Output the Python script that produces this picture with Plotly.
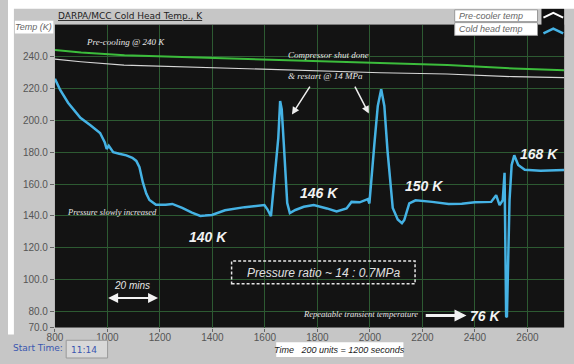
import plotly.graph_objects as go

# ---------------- data ----------------
cold_x = [800, 820, 850, 880, 897, 934, 972, 990, 997, 1005, 1012, 1022, 1045, 1072, 1095, 1110,
          1122, 1135, 1148, 1160, 1185, 1222, 1247, 1285, 1322, 1354, 1372, 1398, 1448, 1523, 1598,
          1610, 1623, 1636, 1643, 1651, 1658, 1664, 1672, 1685, 1695, 1716, 1748, 1786, 1836, 1873,
          1911, 1930, 1961, 1992, 1998, 2004, 2017, 2030, 2043, 2055, 2067, 2087, 2106, 2122, 2131,
          2150, 2174, 2237, 2300, 2350, 2400, 2462, 2481, 2494, 2506, 2513, 2516, 2519, 2522, 2526,
          2532, 2540, 2550, 2565, 2590, 2650, 2740]
cold_y = [226, 219, 211, 205, 201.5, 197, 192, 186, 182, 184, 182.5, 180, 179, 178, 176.5, 174.5,
          170.5, 161, 154, 150, 147, 147, 147.5, 145, 142, 140, 140.2, 140.6, 143.5, 145.5, 146.8,
          144, 139.8, 164, 174.5, 189, 212, 207, 185, 148, 141.8, 143.7, 145.7, 146.8, 144.7, 142.8,
          144.7, 148.8, 148.5, 150.5, 147.8, 158, 185, 209, 219.5, 209, 181, 145, 137.8, 135.5, 137.5,
          147.8, 149.8, 148.8, 147.4, 147.6, 148.6, 148.8, 153, 146.8, 149.8, 167, 110, 77, 76.5, 110,
          150, 172, 178, 172, 169, 168.3, 168.8]

green_x = [800, 900, 1065, 1345, 1685, 2040, 2295, 2548, 2740]
green_y = [244, 242.5, 240.8, 239.4, 238.1, 236.0, 234.6, 232.5, 231.4]

white_x = [800, 898, 1063, 1406, 1786, 2041, 2293, 2548, 2740]
white_y = [238.3, 236.7, 234.6, 232.9, 231.4, 229.8, 229.0, 227.3, 226.7]

x_ticks = [800, 1000, 1200, 1400, 1600, 1800, 2000, 2200, 2400, 2600]
y_ticks = [70, 80, 100, 120, 140, 160, 180, 200, 220, 240]

# ---------------- layout helpers (paper == whole figure) ----------------
W, H = 574, 364
PL, PR, PT, PB = 47.6, 564, 25, 333   # plot-area pixel box


def px(x):
    return x / W


def py(y):
    return 1 - y / H


GRID = "#2d5a32"
BLUE = "#45b2e4"
fig = go.Figure()

fig.add_trace(go.Scatter(x=green_x, y=green_y, mode="lines", line=dict(color="#3cbd3c", width=2),
                         showlegend=False, hoverinfo="skip"))
fig.add_trace(go.Scatter(x=white_x, y=white_y, mode="lines", line=dict(color="#d6d6d6", width=1.2),
                         name="Pre-cooler temp", showlegend=False))
fig.add_trace(go.Scatter(x=cold_x, y=cold_y, mode="lines", line=dict(color=BLUE, width=2.5),
                         name="Cold head temp", showlegend=False))

shapes = []
annotations = []


def prect(x0, y0, x1, y1, **kw):
    d = dict(type="rect", xref="paper", yref="paper", x0=px(x0), x1=px(x1), y0=py(y1), y1=py(y0))
    d.update(kw)
    return d


def ptext(x, y, text, font, xanchor="center"):
    return dict(x=px(x), y=py(y), xref="paper", yref="paper", text=text, showarrow=False,
                xanchor=xanchor, yanchor="middle", font=font)


# white strips at top / left of gray panel
shapes.append(prect(0, 0, W, 9, fillcolor="white", line=dict(width=0), layer="below"))
shapes.append(prect(0, 0, 6, 340, fillcolor="white", line=dict(width=0), layer="below"))
# Temp (K) box
shapes.append(prect(7, 21, 46, 34, fillcolor="white", line=dict(width=0)))
annotations.append(ptext(26, 27.5, "<i>Temp (K)</i>",
                         dict(family="Liberation Sans", size=9, color="#666")))
# Title
annotations.append(ptext(49, 16, "<u>DARPA/MCC Cold Head Temp., K</u>",
                         dict(family="DejaVu Sans", size=9, color="#222"), "left"))
# Legend
shapes.append(prect(453, 10, 537, 22, fillcolor="white", line=dict(width=1, color="#999")))
shapes.append(prect(453, 23, 537, 36, fillcolor="white", line=dict(width=1, color="#999")))
annotations.append(ptext(455, 16, "<i>Pre-cooler temp</i>",
                         dict(family="Liberation Sans", size=9, color="#666"), "left"))
annotations.append(ptext(455, 29.5, "<i>Cold head temp</i>",
                         dict(family="Liberation Sans", size=9, color="#666"), "left"))
shapes.append(prect(541, 9, 564, 38, fillcolor="#111", line=dict(width=0)))


def chev(x0, xm, x1, ylow, yhigh):
    return "M %f,%f L %f,%f L %f,%f" % (px(x0), py(ylow), px(xm), py(yhigh), px(x1), py(ylow))


shapes.append(dict(type="path", xref="paper", yref="paper", path=chev(543, 553, 563, 18, 13),
                   line=dict(color="white", width=2)))
shapes.append(dict(type="path", xref="paper", yref="paper", path=chev(543, 553, 563, 34, 29),
                   line=dict(color=BLUE, width=2.5)))

# bottom labels
annotations.append(ptext(3, 354, "Start Time:",
                         dict(family="DejaVu Sans", size=9, color="#3a56b0"), "left"))
shapes.append(prect(59, 346, 101, 364, fillcolor="#d8d8d8", line=dict(width=1, color="#999")))
annotations.append(ptext(62, 356, "11:14",
                         dict(family="DejaVu Sans", size=9, color="#3a56b0"), "left"))
shapes.append(prect(272, 348, 401, 363, fillcolor="white", line=dict(width=0)))
annotations.append(ptext(336, 355.5, "<i>Time   200 units = 1200 seconds</i>",
                         dict(family="Liberation Sans", size=9, color="#222")))

# in-plot annotations
serif = dict(family="Liberation Serif", size=9, color="#e6e6e6")
bold = dict(family="Liberation Sans", size=14, color="#f2f2f2")
annotations += [
    dict(x=1068, y=249, text="<i>Pre-cooling @ 240 K</i>", showarrow=False, font=serif),
    dict(x=1842, y=241, text="<i>Compressor shut done</i>", showarrow=False, font=serif),
    dict(x=1831, y=227.5, text="<i>& restart @ 14 MPa</i>", showarrow=False, font=serif),
    dict(x=1016, y=142.6, text="<i>Pressure slowly increased</i>", showarrow=False,
         font=dict(family="Liberation Serif", size=8.5, color="#e6e6e6")),
    dict(x=1966, y=78.6, text="<i>Repeatable transient temperature</i>", showarrow=False,
         font=dict(family="Liberation Serif", size=8.5, color="#e6e6e6")),
    dict(x=1384, y=127, text="<b><i>140 K</i></b>", showarrow=False, font=bold),
    dict(x=1805, y=154.3, text="<b><i>146 K</i></b>", showarrow=False, font=bold),
    dict(x=2205, y=159, text="<b><i>150 K</i></b>", showarrow=False, font=bold),
    dict(x=2643, y=179, text="<b><i>168 K</i></b>", showarrow=False, font=bold),
    dict(x=2437, y=77.5, text="<b><i>76 K</i></b>", showarrow=False, font=bold),
    dict(x=1824, y=104, text="<i>Pressure ratio ~ 14 : 0.7MPa</i>", showarrow=False,
         font=dict(family="Liberation Sans", size=12, color="#e0e0e0")),
    dict(x=1092, y=96.4, text="<i>20 mins</i>", showarrow=False,
         font=dict(family="Liberation Sans", size=10, color="#e6e6e6")),
    # arrows
    dict(x=1703, y=203.6, ax=1775, ay=222, axref="x", ayref="y", text="", showarrow=True,
         arrowhead=2, arrowsize=1, arrowwidth=1.5, arrowcolor="#eeeeee"),
    dict(x=1996, y=204.2, ax=1940, ay=222, axref="x", ayref="y", text="", showarrow=True,
         arrowhead=2, arrowsize=1, arrowwidth=1.5, arrowcolor="#eeeeee"),
    dict(x=2368, y=77.5, ax=2207, ay=77.5, axref="x", ayref="y", text="", showarrow=True,
         arrowhead=2, arrowsize=0.8, arrowwidth=3, arrowcolor="#f2f2f2"),
    dict(x=1193, y=88.5, ax=997, ay=88.5, axref="x", ayref="y", text="", showarrow=True,
         arrowhead=2, arrowside="end+start", arrowsize=1, arrowwidth=2, arrowcolor="#f2f2f2"),
]
shapes.append(dict(type="rect", xref="x", yref="y", x0=1473, x1=2172, y0=97.5, y1=111.7,
                   line=dict(color="#e6e6e6", width=1.5, dash="3px,2px")))

fig.update_layout(
    width=W, height=H,
    margin=dict(l=0, r=0, t=0, b=0, pad=0),
    paper_bgcolor="#c6c6c6",
    plot_bgcolor="#131313",
    showlegend=False,
    shapes=shapes,
    annotations=annotations,
    xaxis=dict(range=[800, 2740], domain=[PL / W, PR / W], tickvals=x_ticks,
               ticktext=[str(v) for v in x_ticks],
               showgrid=True, gridcolor=GRID, gridwidth=1, zeroline=False,
               ticks="outside", ticklen=3, tickcolor="#666", ticklabelstandoff=-3,
               tickfont=dict(family="Liberation Sans", size=10, color="#555")),
    yaxis=dict(range=[70, 260], domain=[1 - PB / H, 1 - PT / H], tickvals=y_ticks,
               ticktext=["%.1f" % v for v in y_ticks],
               showgrid=True, gridcolor=GRID, gridwidth=1, zeroline=False,
               ticks="outside", ticklen=4, tickcolor="#666",
               tickfont=dict(family="Liberation Sans", size=10, color="#555")),
)

fig.write_html("out.html")
